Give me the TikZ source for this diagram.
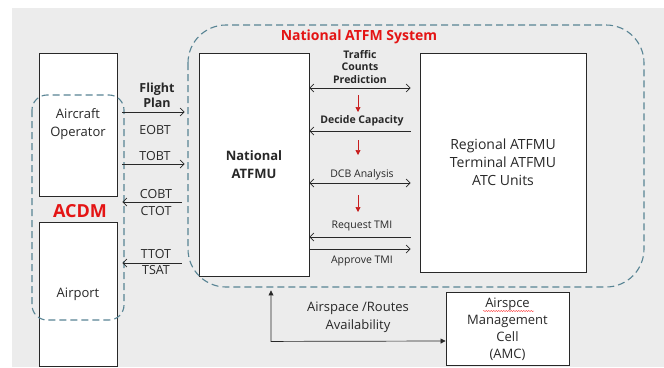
\documentclass[tikz,border=0pt]{standalone}
\usepackage{fontspec}
\setmainfont{Open Sans}
\usetikzlibrary{arrows.meta,calc,decorations.pathmorphing}
\definecolor{bgray}{RGB}{236,236,236}
\definecolor{dashc}{RGB}{88,132,148}
\definecolor{linec}{RGB}{40,40,40}
\definecolor{redt}{RGB}{228,20,20}
\definecolor{redarr}{RGB}{200,30,30}

\begin{document}
\begin{tikzpicture}[x=1pt,y=-1pt,
  box/.style={draw=linec, line width=0.85pt, fill=white, inner sep=0pt, align=center,
              text=linec, font=\fontsize{13}{18}\selectfont},
  region/.style={draw=dashc, line width=1.1pt, dash pattern=on 7pt off 4pt},
  flow/.style={draw=linec, line width=0.7pt, -{Straight Barb[length=4pt,width=8pt]}},
  flowboth/.style={draw=linec, line width=0.7pt,
                   {Straight Barb[length=4pt,width=8pt]}-{Straight Barb[length=4pt,width=8pt]}},
  stepdown/.style={draw=redarr, line width=0.7pt, -{Triangle[length=5pt,width=5pt]}},
  linkarr/.style={draw=linec, line width=0.7pt,
                  {Triangle[length=5pt,width=5pt]}-{Triangle[length=5pt,width=5pt]}},
  lbl/.style={font=\fontsize{12.5}{15}\selectfont, inner sep=0pt, text=linec, align=center},
  small/.style={font=\fontsize{10.5}{12.5}\selectfont, inner sep=0pt, text=linec, align=center},
]
\useasboundingbox (0,0) rectangle (664,367);
\fill[bgray] (12,8) rectangle (664,367);

% units
\node[box, minimum width=78pt, minimum height=143pt] (ao) at (78,124.5) {Aircraft\\Operator};
\node[box, minimum width=78pt, minimum height=144pt] (ap) at (78,294) {Airport};
\node[box, minimum width=110pt, minimum height=223pt, font=\bfseries\fontsize{13}{18}\selectfont] (natu) at (254,164.5) {National\\ATFMU};
\node[box, minimum width=166pt, minimum height=219pt, font=\fontsize{14}{18}\selectfont] (reg) at (503,162.5) {Regional ATFMU\\Terminal ATFMU\\ATC Units};
\node[box, minimum width=123pt, minimum height=73pt, font=\fontsize{13}{17}\selectfont] (amc) at (507.5,329) {Airspce\\Management\\Cell\\(AMC)};
\draw[red!85, line width=0.4pt, decorate, decoration={snake,amplitude=0.5pt,segment length=2.5pt}] (483,311) -- (534,311);

% groupings
\draw[region, rounded corners=15pt] (32,95) rectangle (124,320);
\draw[region, rounded corners=38pt] (188,25) rectangle (644,287);
\node[font=\bfseries\fontsize{14}{16}\selectfont, text=redt] (systitle) at (359,37) {National ATFM System};
\node[font=\bfseries\fontsize{18}{18}\selectfont, text=redt] (acdm) at (80,211) {ACDM};

% exchanges between aircraft operator / airport and the national unit
\coordinate (lx) at ($(ao.east)+(5,0)$);
\coordinate (rx) at ($(natu.west)+(-14,0)$);
\node[lbl, font=\bfseries\fontsize{12.5}{15}\selectfont] (fp) at (157,95.5) {Flight\\Plan};
\draw[flow] (lx |- 0,112) -- (rx |- 0,112);
\node[lbl] (eobt) at (155,130) {EOBT};
\node[lbl] (tobt) at (155,156) {TOBT};
\draw[flow] (lx |- 0,164) -- (rx |- 0,164);
\node[lbl] (cobt) at (156,194) {COBT};
\draw[flow] ($(rx |- 0,202)+(-3,0)$) -- (lx |- 0,202);
\node[lbl] (ctot) at (156,211) {CTOT};
\node[lbl] (ttot) at (156,254) {TTOT};
\draw[flow] ($(rx |- 0,263)+(-3,0)$) -- (lx |- 0,263);
\node[lbl] (tsat) at (156,270) {TSAT};

% exchanges between the national unit and regional units
\coordinate (ml) at (natu.east);
\coordinate (mr) at ($(reg.west)+(-9,0)$);
\node[small, font=\bfseries\fontsize{10.5}{12.5}\selectfont] (tcp) at (360,67) {Traffic\\Counts\\Prediction};
\draw[flowboth] (ml |- 0,88) -- (mr |- 0,88);
\draw[stepdown] (358,95) -- (358,112);
\node[small, font=\bfseries\fontsize{10.5}{12.5}\selectfont] (dc) at (362,121) {Decide Capacity};
\draw[flow] (mr |- 0,131) -- (ml |- 0,131);
\draw[stepdown] (358,140) -- (358,155);
\node[small] (dcb) at (362,175) {DCB Analysis};
\draw[flowboth] (ml |- 0,183) -- (mr |- 0,183);
\draw[stepdown] (358,195) -- (358,212);
\node[small] (rtmi) at (362,226) {Request TMI};
\draw[flow] (mr |- 0,237) -- (ml |- 0,237);
\draw[flow] (ml |- 0,249) -- (mr |- 0,249);
\node[small] (atmi) at (362,261) {Approve TMI};

% airspace availability link
\node[lbl, font=\fontsize{13}{18}\selectfont] (avail) at (358,317) {Airspace /Routes\\Availability};
\draw[linkarr] ($(natu.south)+(17,14)$) -- ($(natu.south)+(17,65)$) -- (amc.west |- 0,341);
\end{tikzpicture}
\end{document}
